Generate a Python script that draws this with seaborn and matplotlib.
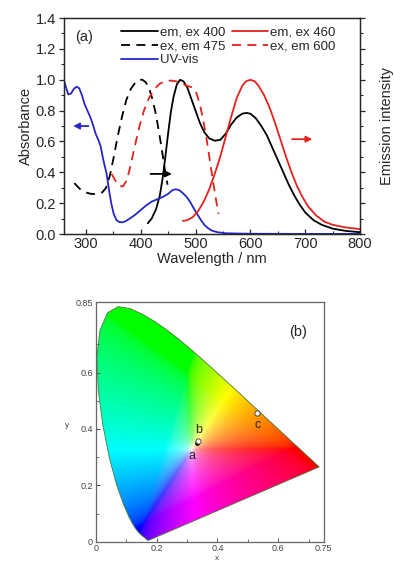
import numpy as np
import pandas as pd
import matplotlib
matplotlib.use("Agg")
import matplotlib.pyplot as plt
from matplotlib.patches import Polygon
from matplotlib.ticker import MultipleLocator, FixedLocator
import seaborn as sns

# ---- panel (a) data ----
uv_nm = [260, 264, 268, 273, 278, 283, 288, 293, 298, 303, 308, 313, 318, 323, 327, 332, 338, 343,
         347, 351, 356, 361, 366, 372, 380, 390, 400, 410, 420, 430, 440, 450, 458, 464, 470, 477,
         484, 490, 497, 503, 510, 516, 522, 530, 540, 555, 600, 700, 800]
uv_abs = [1.0, 0.95, 0.905, 0.91, 0.94, 0.955, 0.945, 0.90, 0.84, 0.80, 0.76, 0.71, 0.65, 0.61, 0.57,
          0.48, 0.39, 0.27, 0.19, 0.13, 0.09, 0.078, 0.076, 0.082, 0.10, 0.125, 0.155, 0.185, 0.21,
          0.225, 0.24, 0.26, 0.285, 0.29, 0.285, 0.265, 0.24, 0.21, 0.165, 0.13, 0.09, 0.06, 0.04,
          0.022, 0.012, 0.005, 0.002, 0.001, 0.001]

ex475_nm = [279, 290, 300, 310, 320, 330, 337, 344, 351, 358, 366, 374, 382, 390, 397, 403, 409,
            415, 421, 427, 433, 439, 444, 449]
ex475_val = [0.33, 0.29, 0.27, 0.26, 0.26, 0.27, 0.30, 0.38, 0.50, 0.63, 0.76, 0.87, 0.94, 0.98,
             1.0, 1.0, 0.985, 0.95, 0.88, 0.79, 0.67, 0.54, 0.42, 0.32]

ex600_nm = [347, 355, 362, 368, 375, 382, 390, 398, 406, 415, 425, 435, 445, 455, 465, 475, 485,
            495, 502, 508, 514, 520, 526, 532, 537, 542]
ex600_val = [0.39, 0.34, 0.31, 0.31, 0.35, 0.45, 0.58, 0.70, 0.80, 0.88, 0.94, 0.975, 0.99, 0.995,
             0.99, 0.975, 0.96, 0.95, 0.91, 0.84, 0.74, 0.62, 0.48, 0.34, 0.23, 0.13]

em400_nm = [413, 420, 428, 435, 440, 445, 450, 455, 460, 466, 472, 478, 485, 492, 500, 508, 516,
            525, 535, 545, 555, 565, 575, 585, 593, 600, 610, 620, 630, 640, 650, 660, 670, 680,
            690, 700, 715, 730, 750, 775, 800]
em400_val = [0.07, 0.10, 0.16, 0.25, 0.36, 0.50, 0.65, 0.79, 0.89, 0.97, 1.0, 0.99, 0.95, 0.88,
             0.80, 0.72, 0.66, 0.62, 0.605, 0.61, 0.65, 0.71, 0.755, 0.78, 0.785, 0.78, 0.75, 0.70,
             0.64, 0.56, 0.48, 0.40, 0.32, 0.25, 0.19, 0.14, 0.09, 0.06, 0.035, 0.02, 0.012]

em460_nm = [477, 485, 495, 505, 515, 525, 535, 545, 555, 565, 575, 585, 592, 600, 608, 615, 625,
            635, 645, 655, 665, 675, 685, 695, 705, 720, 735, 750, 770, 785, 800]
em460_val = [0.085, 0.09, 0.11, 0.15, 0.21, 0.29, 0.39, 0.50, 0.63, 0.76, 0.88, 0.96, 0.99, 1.0,
             0.99, 0.96, 0.90, 0.82, 0.72, 0.61, 0.50, 0.40, 0.31, 0.24, 0.18, 0.12, 0.08, 0.06,
             0.045, 0.038, 0.032]

# ---- panel (b) data: CIE 1931 spectral locus 380-700 nm and the sample points ----
locus_x = [0.1741, 0.1740, 0.1738, 0.1736, 0.1733, 0.1730, 0.1726, 0.1721, 0.1714, 0.1703, 0.1689,
           0.1669, 0.1644, 0.1611, 0.1566, 0.1510, 0.1440, 0.1355, 0.1241, 0.1096, 0.0913, 0.0687,
           0.0454, 0.0235, 0.0082, 0.0039, 0.0139, 0.0389, 0.0743, 0.1142, 0.1547, 0.1929, 0.2296,
           0.2658, 0.3016, 0.3373, 0.3731, 0.4087, 0.4441, 0.4788, 0.5125, 0.5448, 0.5752, 0.6029,
           0.6270, 0.6482, 0.6658, 0.6801, 0.6915, 0.7006, 0.7079, 0.7140, 0.7190, 0.7230, 0.7260,
           0.7283, 0.7300, 0.7311, 0.7320, 0.7327, 0.7334, 0.7340, 0.7344, 0.7346, 0.7347]
locus_y = [0.0050, 0.0050, 0.0049, 0.0049, 0.0048, 0.0048, 0.0048, 0.0048, 0.0051, 0.0058, 0.0069,
           0.0086, 0.0109, 0.0138, 0.0177, 0.0227, 0.0297, 0.0399, 0.0578, 0.0868, 0.1327, 0.2007,
           0.2950, 0.4127, 0.5384, 0.6548, 0.7502, 0.8120, 0.8338, 0.8262, 0.8059, 0.7816, 0.7543,
           0.7243, 0.6923, 0.6589, 0.6245, 0.5896, 0.5547, 0.5202, 0.4866, 0.4544, 0.4242, 0.3965,
           0.3725, 0.3514, 0.3340, 0.3197, 0.3083, 0.2993, 0.2920, 0.2859, 0.2809, 0.2770, 0.2740,
           0.2717, 0.2700, 0.2689, 0.2680, 0.2673, 0.2666, 0.2660, 0.2656, 0.2654, 0.2653]

pt_names = ["a", "b", "c"]
pt_x = [0.333, 0.337, 0.529]
pt_y = [0.349, 0.358, 0.455]

RED = "#e3231e"
BLUE = "#2626c8"


def xy_to_rgb(x, y, boost=0.85):
    with np.errstate(divide="ignore", invalid="ignore"):
        X = x / y
        Y = np.ones_like(x)
        Z = (1 - x - y) / y
    r = 3.2406 * X - 1.5372 * Y - 0.4986 * Z
    g = -0.9689 * X + 1.8758 * Y + 0.0415 * Z
    b = 0.0557 * X - 0.2040 * Y + 1.0570 * Z
    rgb = np.stack([r, g, b], axis=-1)
    rgb = np.nan_to_num(rgb, nan=0, posinf=0, neginf=0)
    rgb = np.clip(rgb, 0, None)
    m = rgb.max(axis=-1, keepdims=True)
    m[m == 0] = 1
    rgb = rgb / m
    # push colours away from white so the diagram looks as saturated as the original
    mn = boost * rgb.min(axis=-1, keepdims=True)
    rgb = (rgb - mn) / (1 - mn)
    rgb = np.where(rgb <= 0.0031308, 12.92 * rgb, 1.055 * rgb ** (1 / 2.4) - 0.055)
    return np.clip(rgb, 0, 1)


def main():
    sns.set_style("ticks")
    plt.rcParams["font.family"] = ["Liberation Sans", "DejaVu Sans"]

    fig = plt.figure(figsize=(3.94, 5.64), dpi=100)

    # ---------------- panel (a) ----------------
    ax = fig.add_axes([0.162, 0.585, 0.752, 0.383])
    sns.lineplot(x=em400_nm, y=em400_val, ax=ax, color="black", lw=1.3, label="em, ex 400")
    sns.lineplot(x=ex475_nm, y=ex475_val, ax=ax, color="black", lw=1.3, label="ex, em 475",
                 linestyle=(0, (5, 3.5)))
    sns.lineplot(x=uv_nm, y=uv_abs, ax=ax, color=BLUE, lw=1.3, label="UV-vis")
    sns.lineplot(x=em460_nm, y=em460_val, ax=ax, color=RED, lw=1.3, label="em, ex 460")
    sns.lineplot(x=ex600_nm, y=ex600_val, ax=ax, color=RED, lw=1.3, label="ex, em 600",
                 linestyle=(0, (5, 3.5)))

    ax.set_xlim(260, 800)
    ax.set_ylim(0, 1.4)
    ax.xaxis.set_major_locator(FixedLocator([300, 400, 500, 600, 700, 800]))
    ax.xaxis.set_minor_locator(FixedLocator([350, 450, 550, 650, 750]))
    ax.yaxis.set_major_locator(MultipleLocator(0.2))
    ax.yaxis.set_minor_locator(MultipleLocator(0.1))
    ax.yaxis.set_major_formatter(matplotlib.ticker.FormatStrFormatter("%.1f"))
    ax.tick_params(axis="both", which="major", labelsize=10.5, length=3.5, width=0.9, pad=2)
    ax.tick_params(axis="both", which="minor", length=2, width=0.8)
    ax.tick_params(axis="x", which="both", direction="in")
    ax.tick_params(axis="y", which="both", direction="out")
    for s in ax.spines.values():
        s.set_linewidth(1.0)
        s.set_visible(True)
    ax.set_xlabel("Wavelength / nm", fontsize=10.5, labelpad=1)
    ax.set_ylabel("Absorbance", fontsize=10.5, labelpad=2)

    axr = ax.twinx()
    axr.set_ylim(0, 1.4)
    axr.yaxis.set_major_locator(MultipleLocator(0.2))
    axr.yaxis.set_minor_locator(MultipleLocator(0.1))
    axr.tick_params(axis="y", which="major", length=3.5, width=0.9, labelright=False, direction="out")
    axr.tick_params(axis="y", which="minor", length=2, width=0.8, direction="out")
    axr.set_ylabel("Emission intensity", fontsize=10.5, labelpad=9)

    ax.legend(loc="upper left", bbox_to_anchor=(0.165, 1.0), ncol=2, frameon=False,
              fontsize=9.5, handlelength=2.8, handletextpad=0.1, columnspacing=0.5,
              labelspacing=0.12, borderaxespad=0.25)
    ax.text(280, 1.28, "(a)", fontsize=10.5, va="center")

    arrow = dict(arrowstyle="-|>", lw=1.3, mutation_scale=9)
    ax.annotate("", xy=(272, 0.70), xytext=(310, 0.70), arrowprops=dict(arrow, color=BLUE))
    ax.annotate("", xy=(462, 0.39), xytext=(413, 0.39), arrowprops=dict(arrow, color="black"))
    ax.annotate("", xy=(718, 0.615), xytext=(671, 0.615), arrowprops=dict(arrow, color=RED))

    # ---------------- panel (b) ----------------
    bx = fig.add_axes([0.243, 0.0395, 0.579, 0.425])
    gx, gy = np.meshgrid(np.linspace(0, 0.75, 400), np.linspace(0.001, 0.85, 460))
    img = xy_to_rgb(gx, gy)
    im = bx.imshow(img, extent=[0, 0.75, 0, 0.85], origin="lower", aspect="auto",
                   interpolation="bilinear")
    locus = pd.DataFrame({"x": locus_x + [locus_x[0]], "y": locus_y + [locus_y[0]]})
    poly = Polygon(locus[["x", "y"]].values, closed=True, facecolor="none",
                   edgecolor="#4a7a3a", lw=0.6)
    bx.add_patch(poly)
    im.set_clip_path(poly)

    pts = pd.DataFrame({"name": pt_names, "x": pt_x, "y": pt_y})
    sns.scatterplot(data=pts[pts.name == "a"], x="x", y="y", ax=bx, color="black", s=8,
                    edgecolor="black", linewidth=0.5, zorder=4)
    sns.scatterplot(data=pts[pts.name != "a"], x="x", y="y", ax=bx, color="white", s=14,
                    edgecolor="#333333", linewidth=0.6, zorder=5)
    bx.text(0.338, 0.396, "b", fontsize=9, ha="center", va="center")
    bx.text(0.315, 0.304, "a", fontsize=9, ha="center", va="center")
    bx.text(0.531, 0.414, "c", fontsize=9, ha="center", va="center")
    bx.text(0.665, 0.745, "(b)", fontsize=10.5, ha="center", va="center")

    bx.set_xlim(0, 0.75)
    bx.set_ylim(0, 0.85)
    bx.xaxis.set_major_locator(FixedLocator([0, 0.2, 0.4, 0.6, 0.75]))
    bx.xaxis.set_minor_locator(FixedLocator([0.1, 0.3, 0.5, 0.7]))
    bx.yaxis.set_major_locator(FixedLocator([0, 0.2, 0.4, 0.6, 0.85]))
    bx.yaxis.set_minor_locator(FixedLocator([0.1, 0.3, 0.5, 0.7]))
    bx.set_xticklabels(["0", "0.2", "0.4", "0.6", "0.75"])
    bx.set_yticklabels(["0", "0.2", "0.4", "0.6", "0.85"])
    bx.tick_params(which="both", direction="in", color="#555555", labelcolor="#444444",
                   labelsize=6.5, pad=2)
    bx.tick_params(which="major", length=3, width=0.7)
    bx.tick_params(which="minor", length=2, width=0.6)
    for s in bx.spines.values():
        s.set_visible(True)
        s.set_color("#666666")
        s.set_linewidth(0.9)
    bx.set_xlabel("x", fontsize=6, color="#444444")
    bx.set_ylabel("y", fontsize=6, color="#444444", rotation=0)
    bx.yaxis.set_label_coords(-0.125, 0.4 / 0.85)
    bx.xaxis.set_label_coords(0.4 / 0.75, -0.055)

    fig.savefig("out.png", dpi=100)
    plt.close(fig)


if __name__ == "__main__":
    main()
